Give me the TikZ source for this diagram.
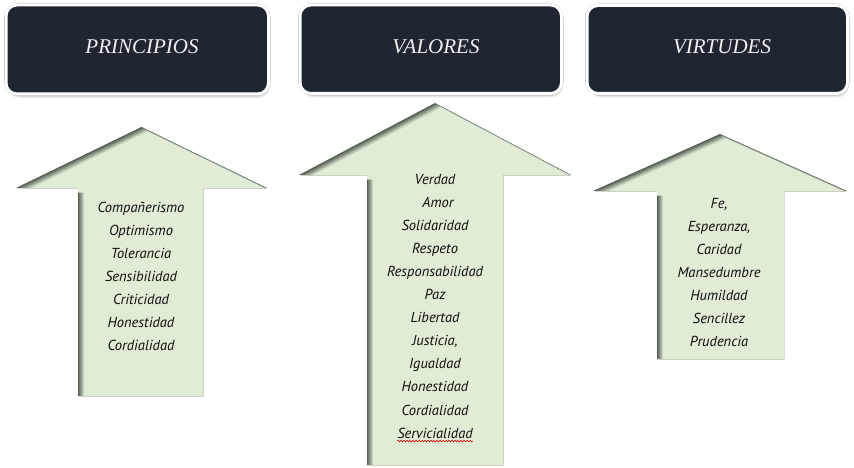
\documentclass[tikz,border=0pt]{standalone}
\usepackage{fontspec}
\setmainfont{Liberation Serif}
\newfontfamily\headfont{Liberation Serif}
\newfontfamily\handfont{PT Sans}
\usetikzlibrary{decorations.pathmorphing}
\definecolor{boxnavy}{HTML}{1F2631}
\definecolor{arrgreen}{HTML}{E0ECD6}
\definecolor{shA}{HTML}{565F53}
\definecolor{shB}{HTML}{6F7A6B}
\definecolor{shC}{HTML}{8C9788}
\definecolor{shD}{HTML}{A9B4A4}
\definecolor{shE}{HTML}{C6D2BF}
\tikzset{
  arr/.style n args={7}{insert path={(#1,#2) -- ({#1+#4},#3) -- (#6,#3) -- (#6,#7) -- (#5,#7) -- (#5,#3) -- ({#1-#4},#3) -- cycle}},
  hbox/.style={draw=white, line width=3pt, fill=boxnavy, rounded corners=11pt, inner sep=0pt},
  hshadow/.style={fill=black, opacity=0.09, rounded corners=12pt},
  htext/.style={text=white!94!black, font=\headfont\itshape\fontsize{21}{24}\selectfont, anchor=base, inner sep=0pt},
  item/.style={font=\handfont\itshape\fontsize{14.5}{17}\selectfont, anchor=base, text=black!95, inner sep=0pt},
  squiggle/.style={draw=red!85!black, line width=0.6pt, decorate, decoration={snake, amplitude=0.7pt, segment length=3pt}},
}
\newcommand\shadedarrow[7]{%
  \begin{scope}
    \clip[arr={#1}{#2}{#3}{#4}{#5}{#6}{#7}];
    \fill[shA, arr={#1}{#2}{#3}{#4}{#5}{#6}{#7}];
    \fill[shB, shift={(1.2,0.9)}, arr={#1}{#2}{#3}{#4}{#5}{#6}{#7}];
    \fill[shC, shift={(2.4,1.8)}, arr={#1}{#2}{#3}{#4}{#5}{#6}{#7}];
    \fill[shD, shift={(3.6,2.7)}, arr={#1}{#2}{#3}{#4}{#5}{#6}{#7}];
    \fill[shE, shift={(4.8,3.6)}, arr={#1}{#2}{#3}{#4}{#5}{#6}{#7}];
    \fill[arrgreen, shift={(6,4.5)}, arr={#1}{#2}{#3}{#4}{#5}{#6}{#7}];
  \end{scope}}
\newcommand\headbox[5]{%
  \foreach \s in {1,2,3}{\fill[hshadow, shift={(0.6*\s,1.3*\s)}] (#1,#2) rectangle (#3,#4);}
  \draw[black!25, line width=4pt, rounded corners=12pt] (#1,#2) rectangle (#3,#4);
  \node[hbox, minimum width={(#3-#1)*1pt}, minimum height={(#4-#2)*1pt}] (#5) at ({(#1+#3)/2},{(#2+#4)/2}) {};}
\begin{document}
\begin{tikzpicture}[x=1pt,y=-1pt]
\useasboundingbox[fill=white] (0,0) rectangle (854,468);

% header boxes
\headbox{6}{5}{268.5}{94}{bp}
\headbox{300}{5}{561.5}{93.5}{bv}
\headbox{587}{5.5}{847.5}{93.5}{br}
\node[htext] (tp) at (142,53.5) {PRINCIPIOS};
\node[htext] (tv) at (436,53.5) {VALORES};
\node[htext] (tr) at (722,53.5) {VIRTUDES};

% arrows
\shadedarrow{141.5}{127}{188}{125.5}{78}{203}{396}
\shadedarrow{435}{103}{175}{136}{367}{503}{465}
\shadedarrow{720}{134}{191}{127}{657}{784}{359}

% lists
\foreach \t [count=\i from 0] in {Compañerismo,Optimismo,Tolerancia,Sensibilidad,Criticidad,Honestidad,Cordialidad}
  \node[item] (p\i) at (141,212.5+23*\i) {\t};
\foreach \t/\dx [count=\i from 0] in {Verdad/0,Amor/3,Solidaridad/0,Respeto/0,Responsabilidad/0,Paz/0,Libertad/0,{Justicia,}/0,Igualdad/0,Honestidad/0,Cordialidad/0,Servicialidad/0}
  \node[item] (v\i) at (435+\dx,184+23.1*\i) {\t};
\foreach \t [count=\i from 0] in {{Fe,},{Esperanza,},Caridad,Mansedumbre,Humildad,Sencillez,Prudencia}
  \node[item] (r\i) at (719,208.5+23.05*\i) {\t};
\draw[squiggle] ([yshift=-3pt]v11.base west) -- ([yshift=-3pt]v11.base east);
\end{tikzpicture}
\end{document}
